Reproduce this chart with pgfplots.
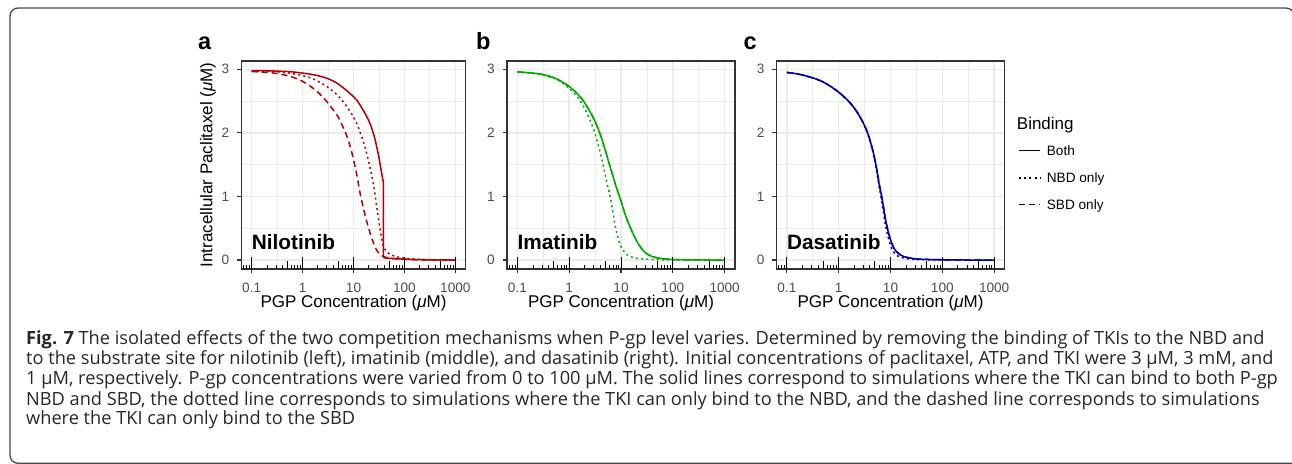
\documentclass[border=0pt]{standalone}
\usepackage{fontspec}
\setmainfont{Liberation Sans}
\newfontfamily\capfont{Open Sans}
\usepackage{pgfplots}
\pgfplotsset{compat=1.18}
\definecolor{grid92}{RGB}{235,235,235}
\definecolor{grey20}{RGB}{51,51,51}
\definecolor{grey30}{RGB}{77,77,77}
\definecolor{nilo}{RGB}{180,0,0}
\definecolor{ima}{RGB}{0,172,0}
\definecolor{dasa}{RGB}{0,0,178}
\definecolor{capcol}{RGB}{40,38,38}
\newcommand\fs[1]{\fontsize{#1}{#1}\selectfont}
\newcommand\rug{%
 \pgfplotsinvokeforeach{0.07,0.08,0.09,0.2,0.3,0.4,0.6,0.7,0.8,0.9,2,3,4,6,7,8,9,20,30,40,60,70,80,90,200,300,400,600,700,800,900}{\draw[black,line width=0.9pt] (axis cs:##1,-0.14) -- ++(0pt,4.3pt);}%
 \pgfplotsinvokeforeach{0.5,5,50,500}{\draw[black,line width=0.9pt] (axis cs:##1,-0.14) -- ++(0pt,8pt);}%
 \pgfplotsinvokeforeach{0.1,1,10,100,1000}{\draw[black,line width=0.9pt] (axis cs:##1,-0.14) -- ++(0pt,12pt);}%
}
\tikzset{
 mydot/.style={dash pattern=on 2pt off 3.2pt},
 mydash/.style={dash pattern=on 6pt off 4pt},
 mylab/.style={anchor=base west, inner sep=0pt, font=\fs{20.8}\bfseries},
}
\pgfplotsset{
  every axis/.append style={
  scale only axis, height=208pt,
  axis line style={draw=grey20, line width=1.2pt},
  grid=both,
  major grid style={line width=1.5pt, draw=grid92},
  minor grid style={line width=0.8pt, draw=grid92},
  tick align=outside, tick pos=left,
  major tick length=4.3pt, minor tick length=0pt,
  major tick style={draw=grey20, line width=1.2pt},
  xticklabel style={font=\fs{13.6}, text=grey30, anchor=base, inner sep=0pt, yshift=-19pt},
  yticklabel style={font=\fs{13.6}, text=grey30, anchor=east, inner sep=0pt, xshift=-7.7pt},
  xlabel style={font=\fs{17}, anchor=base, inner sep=0pt, at={(axis description cs:0.5,-0.1875)}},
  },
}
\begin{document}
\begin{tikzpicture}[x=1pt,y=1pt]
\useasboundingbox (0,0) rectangle (1292,463);
\clip (0,0) rectangle (1292,463);
\draw[line width=1.3pt, black!72, rounded corners=8pt] (1294,-0.3) -- (10,-0.3) -- (10,455) -- (1294,455) -- (1294,-0.3);

% ---------- panel a ----------
\begin{axis}[xmode=log, xmin=0.0631, xmax=1585, ymin=-0.14, ymax=3.13,
  xtick={0.1,1,10,100,1000}, xticklabels={0.1,1,10,100,1000},
  minor xtick={0.3162,3.162,31.62,316.2},
  ytick={0,1,2,3}, yticklabels={0,1,2,3}, minor ytick={0.5,1.5,2.5},
  anchor=south west, at={(241.5pt,194pt)}, width=224pt,
  xlabel={PGP Concentration (\textit{μ}M)},
  ylabel={Intracellular Paclitaxel (\textit{μ}M)},
  ylabel style={font=\fs{17}, anchor=center, inner sep=0pt, at={(axis description cs:-0.1496,0.5)}}]
\addplot[nilo, line width=1.5pt, mydash, smooth] coordinates {(0.1,2.965) (0.2,2.95) (0.3,2.935) (0.5,2.90) (0.7,2.865) (1,2.81) (1.5,2.72) (2,2.64) (3,2.49) (4,2.36) (5,2.25) (6,2.12) (7,2.00) (8,1.87) (9,1.73) (10,1.58) (11,1.43) (12,1.28) (13.4,1.06) (15,0.88) (16.5,0.74) (18,0.62) (20,0.49) (22,0.38) (24.4,0.28) (27,0.19) (30,0.13) (33,0.09) (37,0.065) (41,0.05) (50,0.033) (70,0.02) (100,0.013) (200,0.006) (500,0.002) (1000,0.001)};
\addplot[nilo, line width=1.5pt, mydot, smooth] coordinates {(0.1,2.975) (0.2,2.968) (0.3,2.96) (0.5,2.945) (0.7,2.925) (1,2.90) (1.5,2.86) (2,2.81) (3,2.73) (4,2.65) (5,2.58) (7,2.44) (10,2.25) (12,2.12) (14,1.97) (16,1.84) (18,1.69) (20,1.54) (22,1.39) (24,1.24) (26,1.08) (28,0.89) (30,0.72) (32,0.57) (34,0.44) (36,0.33) (38,0.24) (40,0.19) (45,0.13) (50,0.10) (60,0.07) (70,0.052) (85,0.04) (100,0.03) (150,0.018) (200,0.012) (300,0.007) (500,0.004) (1000,0.002)};
\addplot[nilo, line width=1.5pt] coordinates {(0.1,2.98) (0.2,2.976) (0.3,2.972) (0.5,2.965) (0.7,2.955) (1,2.94) (1.5,2.92) (2,2.90) (3,2.86) (4,2.815) (5,2.77) (7,2.68) (10,2.57) (12,2.50) (14.4,2.40) (17,2.30) (19.5,2.21) (22,2.11) (24.4,2.0) (26.5,1.90) (28.4,1.79) (31,1.65) (33,1.53) (35,1.41) (37,1.30) (38.5,1.23) (38.6,0.06) (40,0.035) (50,0.028) (70,0.021) (100,0.015) (150,0.009) (200,0.006) (300,0.004) (500,0.002) (1000,0.001)};
\rug
\node[mylab] at (axis cs:0.1,0.168) {Nilotinib};
\end{axis}

% ---------- panel b ----------
\begin{axis}[xmode=log, xmin=0.0631, xmax=1585, ymin=-0.14, ymax=3.13,
  xtick={0.1,1,10,100,1000}, xticklabels={0.1,1,10,100,1000},
  minor xtick={0.3162,3.162,31.62,316.2},
  ytick={0,1,2,3}, yticklabels={0,1,2,3}, minor ytick={0.5,1.5,2.5},
  xlabel={PGP Concentration (\textit{μ}M)},
  anchor=south west, at={(507pt,194pt)}, width=228pt]
\addplot[ima, line width=1.5pt, mydash, smooth] coordinates {(0.1,2.96) (0.2,2.94) (0.3,2.92) (0.5,2.87) (0.7,2.81) (1,2.73) (1.5,2.60) (2,2.47) (3,2.22) (4,1.97) (5,1.72) (6,1.50) (7,1.32) (8,1.16) (10,0.93) (12,0.72) (15,0.52) (20,0.30) (25,0.18) (30,0.11) (40,0.055) (50,0.035) (70,0.018) (100,0.01) (200,0.004) (500,0.001) (1000,0.0)};
\addplot[ima, line width=1.5pt, mydot, smooth] coordinates {(0.1,2.955) (0.2,2.935) (0.3,2.91) (0.5,2.86) (0.7,2.80) (1,2.70) (1.5,2.55) (2,2.38) (2.5,2.21) (3,2.04) (3.5,1.86) (4,1.68) (4.5,1.50) (5,1.33) (5.5,1.17) (6,1.05) (6.5,0.90) (7,0.75) (7.5,0.60) (8,0.48) (9,0.32) (10,0.21) (12,0.11) (15,0.055) (20,0.03) (30,0.015) (50,0.007) (100,0.003) (1000,0.0)};
\addplot[ima, line width=1.5pt, smooth] coordinates {(0.1,2.96) (0.2,2.94) (0.3,2.92) (0.5,2.87) (0.7,2.81) (1,2.73) (1.5,2.60) (2,2.47) (3,2.22) (4,1.97) (5,1.72) (6,1.50) (7,1.32) (8,1.16) (10,0.93) (12,0.72) (15,0.52) (20,0.30) (25,0.18) (30,0.11) (40,0.055) (50,0.035) (70,0.018) (100,0.01) (200,0.004) (500,0.001) (1000,0.0)};
\rug
\node[mylab] at (axis cs:0.1,0.168) {Imatinib};
\end{axis}

% ---------- panel c ----------
\begin{axis}[xmode=log, xmin=0.0631, xmax=1585, ymin=-0.14, ymax=3.13,
  xtick={0.1,1,10,100,1000}, xticklabels={0.1,1,10,100,1000},
  minor xtick={0.3162,3.162,31.62,316.2},
  ytick={0,1,2,3}, yticklabels={0,1,2,3}, minor ytick={0.5,1.5,2.5},
  xlabel={PGP Concentration (\textit{μ}M)},
  anchor=south west, at={(776.5pt,194pt)}, width=228pt]
\addplot[dasa, line width=1.5pt, mydash, smooth] coordinates {(0.1,2.95) (0.15,2.93) (0.2,2.91) (0.3,2.87) (0.4,2.835) (0.5,2.80) (0.7,2.73) (1,2.64) (1.5,2.51) (2,2.39) (2.5,2.27) (3,2.15) (3.5,2.03) (4,1.89) (4.5,1.74) (5,1.58) (5.5,1.40) (6,1.21) (6.5,1.07) (7,0.93) (7.5,0.78) (8,0.64) (8.5,0.54) (9,0.45) (9.5,0.38) (10,0.32) (11,0.23) (12,0.17) (13,0.135) (14,0.11) (16,0.075) (18,0.057) (20,0.045) (25,0.03) (30,0.02) (50,0.01) (100,0.005) (200,0.002) (1000,0.0)};
\addplot[dasa, line width=1.5pt, mydot, smooth] coordinates {(0.1,2.95) (0.15,2.93) (0.2,2.91) (0.3,2.87) (0.4,2.835) (0.5,2.80) (0.7,2.73) (1,2.64) (1.5,2.51) (2,2.39) (2.5,2.27) (3,2.15) (3.5,2.02) (4,1.88) (4.5,1.72) (5,1.55) (5.5,1.36) (6,1.17) (6.5,1.01) (7,0.85) (7.5,0.69) (8,0.55) (8.5,0.45) (9,0.36) (9.5,0.29) (10,0.23) (11,0.15) (12,0.11) (13,0.08) (15,0.05) (20,0.025) (30,0.01) (100,0.003) (1000,0.0)};
\addplot[dasa, line width=1.5pt, smooth] coordinates {(0.1,2.95) (0.15,2.93) (0.2,2.91) (0.3,2.87) (0.4,2.835) (0.5,2.80) (0.7,2.73) (1,2.64) (1.5,2.51) (2,2.39) (2.5,2.27) (3,2.15) (3.5,2.03) (4,1.89) (4.5,1.74) (5,1.58) (5.5,1.40) (6,1.21) (6.5,1.07) (7,0.93) (7.5,0.78) (8,0.64) (8.5,0.54) (9,0.45) (9.5,0.38) (10,0.32) (11,0.23) (12,0.17) (13,0.135) (14,0.11) (16,0.075) (18,0.057) (20,0.045) (25,0.03) (30,0.02) (50,0.01) (100,0.005) (200,0.002) (1000,0.0)};
\rug
\node[mylab] at (axis cs:0.1,0.168) {Dasatinib};
\end{axis}

% panel letters
\node[anchor=base west, inner sep=0pt, font=\fs{23.5}\bfseries] at (198,413.7) {a};
\node[anchor=base west, inner sep=0pt, font=\fs{23.5}\bfseries] at (476,413.7) {b};
\node[anchor=base west, inner sep=0pt, font=\fs{23.5}\bfseries] at (743.3,413.7) {c};

% legend
\node[anchor=base west, inner sep=0pt, font=\fs{17}] at (1016.7,333) {Binding};
\draw[black, line width=1.5pt] (1019,312.3) -- (1040,312.3);
\draw[black, line width=1.5pt, dash pattern=on 2pt off 3.2pt] (1019,285) -- (1040,285);
\draw[black, line width=1.5pt, dash pattern=on 6pt off 4pt] (1019,258.3) -- (1040,258.3);
\node[anchor=base west, inner sep=0pt, font=\fs{13.6}] at (1046.7,307.8) {Both};
\node[anchor=base west, inner sep=0pt, font=\fs{13.6}] at (1046.7,280.5) {NBD only};
\node[anchor=base west, inner sep=0pt, font=\fs{13.6}] at (1046.7,253.8) {SBD only};

% caption
\begin{scope}[every node/.style={anchor=base west, inner sep=0pt, font=\capfont\fs{18.2}, text=capcol}]
\node at (26,118) {\textbf{Fig. 7} The isolated effects of the two competition mechanisms when P-gp level varies. Determined by removing the binding of TKIs to the NBD and};
\node at (26,98) {to the substrate site for nilotinib (left), imatinib (middle), and dasatinib (right). Initial concentrations of paclitaxel, ATP, and TKI were 3 μM, 3 mM, and};
\node at (26,78) {1 μM, respectively. P-gp concentrations were varied from 0 to 100 μM. The solid lines correspond to simulations where the TKI can bind to both P-gp};
\node at (26,58) {NBD and SBD, the dotted line corresponds to simulations where the TKI can only bind to the NBD, and the dashed line corresponds to simulations};
\node at (26,38) {where the TKI can only bind to the SBD};
\end{scope}
\end{tikzpicture}
\end{document}
